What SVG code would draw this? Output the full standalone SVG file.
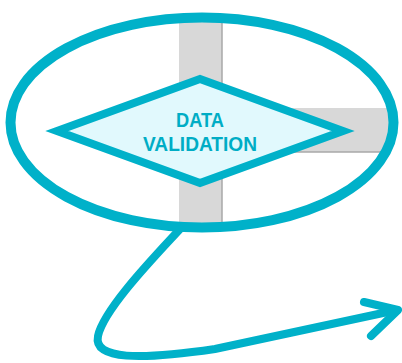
<svg xmlns="http://www.w3.org/2000/svg" width="402" height="363" viewBox="0 0 402 363">
  <style>
    .teal { stroke: #00b1c9; fill: none; }
    .bar { fill: #d8d8d8; }
    .edge { stroke: #a9a9a9; stroke-width: 1.5; }
    .label { font-family: "Liberation Sans", Arial, sans-serif; font-weight: bold; font-size: 19.5px; fill: #00adc5; text-anchor: middle; }
  </style>
  <defs>
    <clipPath id="inside">
      <ellipse cx="202" cy="122.5" rx="191" ry="105"/>
    </clipPath>
  </defs>

  <!-- grey cross behind the decision -->
  <g id="backdrop" clip-path="url(#inside)">
    <rect class="bar" x="179" y="0" width="43" height="240"/>
    <rect class="bar" x="222" y="108" width="190" height="44"/>
    <line class="edge" x1="222" y1="0" x2="222" y2="108"/>
    <line class="edge" x1="222" y1="152" x2="222" y2="240"/>
    <line class="edge" x1="222" y1="152" x2="402" y2="152"/>
  </g>

  <!-- highlight ring -->
  <g id="ring">
    <ellipse class="teal" cx="202" cy="122.5" rx="191.5" ry="105" stroke-width="10"/>
  </g>

  <!-- decision node -->
  <g id="data-validation">
    <polygon points="57,131 200,79 343,131 200,183" fill="#e1f9fd" stroke="#00b1c9" stroke-width="8" stroke-linejoin="miter"/>
    <text class="label" x="200" y="127" textLength="48" lengthAdjust="spacingAndGlyphs">DATA</text>
    <text class="label" x="200" y="151" textLength="114" lengthAdjust="spacingAndGlyphs">VALIDATION</text>
  </g>

  <!-- outgoing connector -->
  <g id="connectors">
    <path class="teal" stroke-width="8" stroke-linecap="round" d="M 180 229 C 160 251, 104 308, 98 336 C 93 360, 140 360, 215 349 L 397 310"/>
    <polyline class="teal" stroke-width="8" stroke-linecap="round" stroke-linejoin="round" points="364,302 398,310 371,336"/>
  </g>
</svg>
